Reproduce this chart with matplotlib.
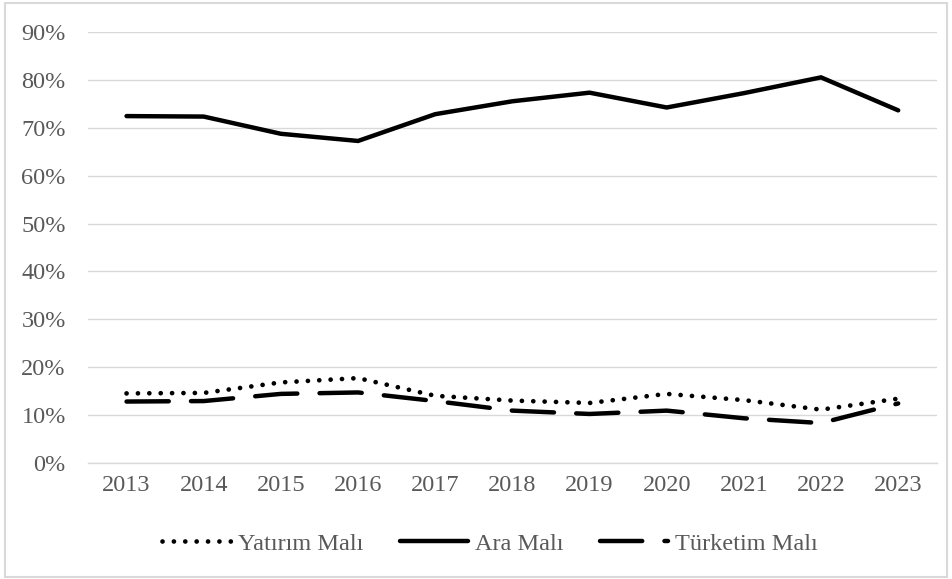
import matplotlib.pyplot as plt
from matplotlib.patches import Rectangle
from matplotlib.ticker import PercentFormatter

years = [str(y) for y in range(2013, 2024)]
yatirim = [14.5, 14.6, 16.8, 17.7, 14.0, 13.0, 12.5, 14.4, 13.1, 11.1, 13.4]
ara = [72.5, 72.4, 68.8, 67.3, 72.9, 75.6, 77.4, 74.3, 77.3, 80.6, 73.7]
tuketim = [12.8, 12.9, 14.4, 14.7, 12.9, 10.9, 10.2, 10.9, 9.3, 8.3, 12.4]

plt.rcParams['font.family'] = ['Liberation Serif', 'DejaVu Serif']
text_col = '#595959'
grid_col = '#d9d9d9'

fig = plt.figure(figsize=(9.52, 5.79), dpi=100)
ax = fig.add_axes([0.0924, 0.2008, 0.8916, 0.7432])

x = range(len(years))
ax.plot(x, yatirim, color='black', lw=3.4, linestyle=(0, (0.01, 2.4)),
        dash_capstyle='round', label='Yatırım Malı')
ax.plot(x, ara, color='black', lw=3.2, solid_capstyle='round',
        solid_joinstyle='miter', label='Ara Malı')
ax.plot(x, tuketim, color='black', lw=3.2, linestyle=(0, (9.5, 5)),
        dash_capstyle='round', label='Türketim Malı')

ax.set_xlim(-0.5, len(years) - 0.5)
ax.set_ylim(0, 90)
ax.set_yticks(range(0, 91, 10))
ax.yaxis.set_major_formatter(PercentFormatter(decimals=0))
ax.set_xticks(list(x))
ax.set_xticklabels(years)
ax.grid(axis='y', color=grid_col, lw=1.0)
ax.set_axisbelow(True)
for s in ['top', 'right', 'left']:
    ax.spines[s].set_visible(False)
ax.spines['bottom'].set_color(grid_col)
ax.spines['bottom'].set_linewidth(1.0)
ax.tick_params(length=0, labelsize=17.5, colors=text_col, pad=9)
ax.tick_params(axis='y', pad=16)

fig.legend(loc='center', bbox_to_anchor=(0.515, 0.061), ncol=3, frameon=False,
           fontsize=17.5, labelcolor=text_col, handlelength=2.8,
           handletextpad=0.3, columnspacing=1.5)

fig.patches.append(Rectangle((0.005, 0.004), 0.99, 0.99, transform=fig.transFigure,
                             fill=False, edgecolor=grid_col, lw=1.5))

fig.savefig('out.png', dpi=100)
